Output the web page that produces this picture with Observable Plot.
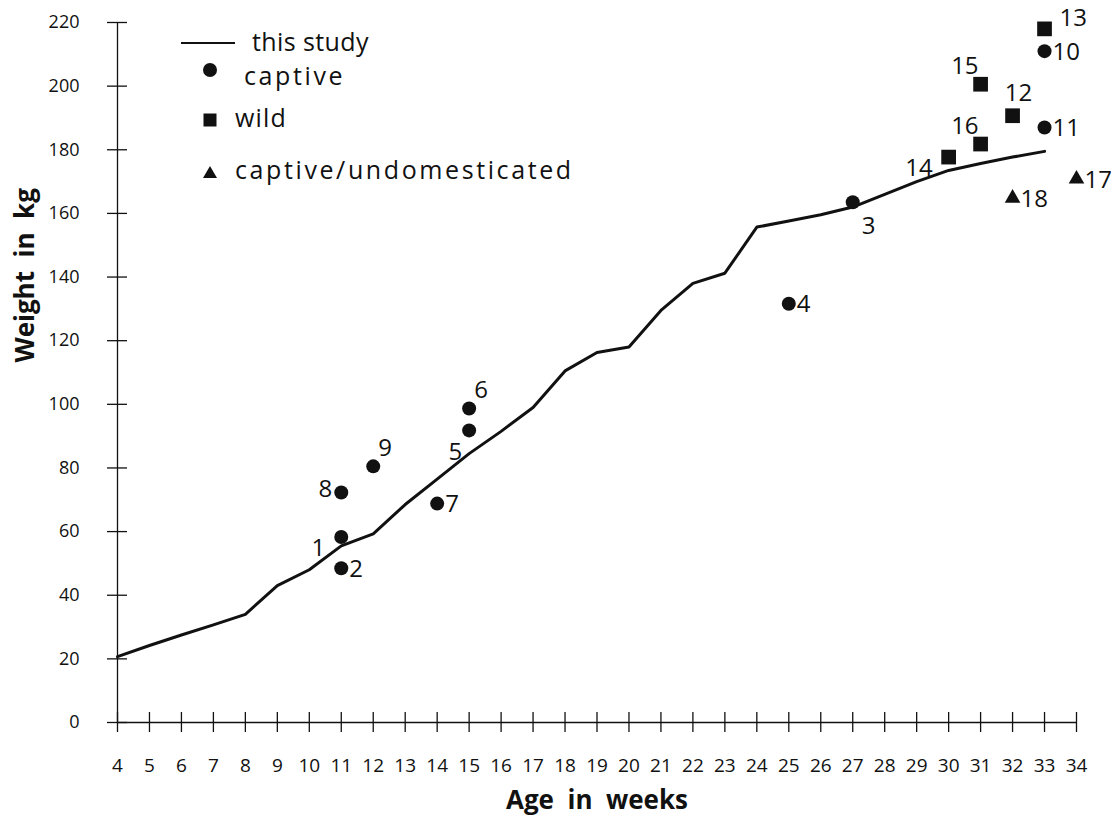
<!DOCTYPE html>
<html>
<head>
<meta charset="utf-8">
<script src="https://cdn.jsdelivr.net/npm/d3@7"></script>
<script src="https://cdn.jsdelivr.net/npm/@observablehq/plot@0.6"></script>
<style>
  body { margin: 0; background: #fff; }
  #wrap { position: relative; width: 1111px; height: 822px; font-family: "Open Sans", sans-serif; color: #111; }
  #wrap svg { display: block; }
  .lg { position: absolute; font-size: 25px; line-height: 1; white-space: nowrap; }
  .lg svg { position: absolute; }
</style>
</head>
<body>
<div id="wrap"></div>
<script>
// ---- data ----
const studyWeeks  = [4, 5, 6, 7, 8, 9, 10, 11, 12, 13, 14, 15, 16, 17, 18, 19, 20, 21, 22, 23, 24, 25, 26, 27, 28, 29, 30, 31, 32, 33];
const studyWeight = [20.7, 24.2, 27.5, 30.7, 34, 43, 48, 55.5, 59.3, 68.5, 76.5, 84.5, 91.5, 99, 110.5, 116.3, 118, 129.5, 138, 141.2, 155.7, 157.6, 159.6, 162, 166, 170, 173.5, 175.7, 177.7, 179.5];

const pointIds    = [1, 2, 3, 4, 5, 6, 7, 8, 9, 10, 11, 12, 13, 14, 15, 16, 17, 18];
const pointWeeks  = [11, 11, 27, 25, 15, 15, 14, 11, 12, 33, 33, 32, 33, 30, 31, 31, 34, 32];
const pointWeight = [58.3, 48.5, 163.5, 131.6, 91.8, 98.7, 68.8, 72.3, 80.5, 211, 187, 190.7, 218, 177.7, 200.6, 181.8, 170.8, 164.8];
const pointGroup  = ["captive", "captive", "captive", "captive", "captive", "captive", "captive", "captive", "captive",
                     "captive", "captive", "wild", "wild", "wild", "wild", "wild",
                     "captive/undomesticated", "captive/undomesticated"];
const labelPlace  = ["lowerleft", "right", "belowright", "right", "belowleft", "upperright", "right", "left", "upperright",
                     "right", "right", "above", "farupperright", "lowerleft", "upperleft", "upperleft", "right", "right"];

const groups       = ["captive", "wild", "captive/undomesticated"];
const legendLabels = ["this study", "captive", "wild", "captive/undomesticated"];

const xTicks = [4, 5, 6, 7, 8, 9, 10, 11, 12, 13, 14, 15, 16, 17, 18, 19, 20, 21, 22, 23, 24, 25, 26, 27, 28, 29, 30, 31, 32, 33, 34];
const yTicks = [0, 20, 40, 60, 80, 100, 120, 140, 160, 180, 200, 220];
const xTitle = "Age\u00a0\u00a0in\u00a0\u00a0weeks";
const yTitle = "Weight\u00a0\u00a0in\u00a0\u00a0kg";

// ---- tables ----
const study = studyWeeks.map((w, i) => ({week: w, weight: studyWeight[i]}));
const points = pointIds.map((id, i) => ({id, week: pointWeeks[i], weight: pointWeight[i], group: pointGroup[i], place: labelPlace[i]}));

const placements = {
  right:         {textAnchor: "start",  dx: 8,   dy: 1},
  left:          {textAnchor: "end",    dx: -9,  dy: -3},
  lowerleft:     {textAnchor: "end",    dx: -16, dy: 11},
  belowleft:     {textAnchor: "end",    dx: -7,  dy: 22},
  belowright:    {textAnchor: "start",  dx: 9,   dy: 24},
  upperright:    {textAnchor: "start",  dx: 5,   dy: -18},
  farupperright: {textAnchor: "start",  dx: 15,  dy: -11},
  above:         {textAnchor: "middle", dx: 6,   dy: -22},
  upperleft:     {textAnchor: "end",    dx: -2,  dy: -18}
};
const symbolStyle = {
  "captive": {symbol: "circle", r: 7},
  "wild": {symbol: "square", r: 8.3},
  "captive/undomesticated": {symbol: "triangle", r: 5.8}
};

const ink = "#111";
const font = "Open Sans";

const labelMarks = Object.entries(placements).map(([name, p]) =>
  Plot.text(points.filter(d => d.place === name), {
    x: "week", y: "weight", text: d => String(d.id),
    textAnchor: p.textAnchor, dx: p.dx, dy: p.dy,
    fontSize: 24, fill: ink, fontFamily: font
  })
);
const dotMarks = groups.map(g =>
  Plot.dot(points.filter(d => d.group === g), {
    x: "week", y: "weight", symbol: () => symbolStyle[g].symbol, r: symbolStyle[g].r,
    fill: ink, stroke: "none"
  })
);

const chart = Plot.plot({
  width: 1111,
  height: 822,
  marginLeft: 117,
  marginRight: 35,
  marginTop: 22,
  marginBottom: 100,
  style: {fontFamily: font, color: ink, background: "#fff"},
  x: {domain: [4, 34], label: null},
  y: {domain: [0, 220], label: null},
  symbol: {domain: ["circle", "square", "triangle"], range: ["circle", "square", "triangle"]},
  marks: [
    Plot.ruleX([4], {stroke: ink, strokeWidth: 1.3}),
    Plot.ruleY([0], {stroke: ink, strokeWidth: 1.3}),
    Plot.axisY({ticks: yTicks, tickSize: 20, dx: 10, tickFormat: () => "", label: null, stroke: ink, strokeWidth: 1.3}),
    Plot.axisY({ticks: yTicks, tickSize: 0, tickPadding: 38, label: null, fontSize: 18, fill: ink, fontFamily: font}),
    Plot.axisX({ticks: xTicks, tickSize: 20, dy: -10, tickFormat: () => "", label: null, stroke: ink, strokeWidth: 1.3}),
    Plot.axisX({ticks: xTicks, tickSize: 0, tickPadding: 36, label: null, fontSize: 19, fill: ink, fontFamily: font}),
    Plot.text([xTitle], {text: d => d, frameAnchor: "bottom", dy: 86, fontSize: 26, fontWeight: "bold", fill: ink, fontFamily: font}),
    Plot.text([yTitle], {text: d => d, frameAnchor: "left", rotate: -90, dx: -92, dy: -10, fontSize: 26, fontWeight: "bold", fill: ink, fontFamily: font}),
    Plot.line(study, {x: "week", y: "weight", stroke: ink, strokeWidth: 3, strokeLinejoin: "round"}),
    ...dotMarks,
    ...labelMarks
  ]
});

const wrap = document.getElementById("wrap");
wrap.appendChild(chart);

// ---- legend (HTML overlay) ----
function addLegendRow(label, symbolSvg, symLeft, symTop, textLeft, textTop, spacing) {
  const row = document.createElement("div");
  row.className = "lg";
  row.style.left = "0px";
  row.style.top = "0px";
  row.innerHTML = symbolSvg.replace("<svg", `<svg style="left:${symLeft}px;top:${symTop}px"`) +
    `<span style="position:absolute;left:${textLeft}px;top:${textTop}px;letter-spacing:${spacing}px">${label}</span>`;
  wrap.appendChild(row);
}
addLegendRow(legendLabels[0], `<svg width="56" height="6"><line x1="1" y1="3" x2="55" y2="3" stroke="${ink}" stroke-width="2.2"/></svg>`, 180, 40, 252, 29, 0.4);
addLegendRow(legendLabels[1], `<svg width="16" height="16"><circle cx="8" cy="8" r="7" fill="${ink}"/></svg>`, 202, 62, 244, 63, 2.6);
addLegendRow(legendLabels[2], `<svg width="16" height="16"><rect x="1.5" y="1.5" width="13" height="13" fill="${ink}"/></svg>`, 202, 112, 235, 105, 1.2);
addLegendRow(legendLabels[3], `<svg width="16" height="16"><path d="M8,2 L15,14 L1,14 Z" fill="${ink}"/></svg>`, 202, 164, 235, 157, 2.6);
</script>
</body>
</html>
